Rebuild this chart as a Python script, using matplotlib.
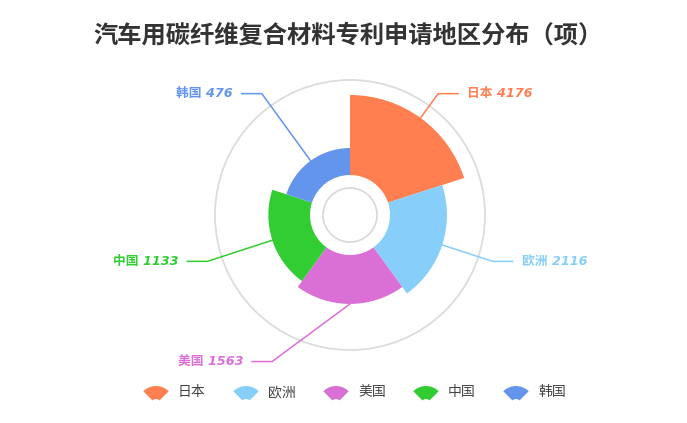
import numpy as np
import matplotlib
matplotlib.use("Agg")
import matplotlib.pyplot as plt
from matplotlib.patches import Wedge

plt.rcParams['font.family'] = ['Noto Sans CJK SC', 'DejaVu Sans']

title = "汽车用碳纤维复合材料专利申请地区分布（项）"
regions = ["日本", "欧洲", "美国", "中国", "韩国"]
counts = [4176, 2116, 1563, 1133, 476]
colors = ["#ff7f50", "#87cefa", "#da70d6", "#32cd32", "#6495ed"]

W, H = 687, 423
cx, cy = 350, 215          # pie centre in pixels
r_hole, r_max, r_ring = 40, 120, 135

fig = plt.figure(figsize=(W / 100, H / 100), dpi=100)
fig.patch.set_facecolor("white")

# polar axes for the rose, its spine is the grey outer ring
ax = fig.add_axes([(cx - r_ring) / W, (H - cy - r_ring) / H, 2 * r_ring / W, 2 * r_ring / H],
                  projection="polar")
ax.set_theta_zero_location("N")
ax.set_theta_direction(-1)
ax.set_ylim(0, r_ring)
ax.set_xticks([])
ax.set_yticks([])
ax.grid(False)
ax.spines["polar"].set_color("#dcdcdc")
ax.spines["polar"].set_linewidth(1.3)

n = len(counts)
step = 2 * np.pi / n
theta = np.arange(n) * step + step / 2
vals = np.array(counts, dtype=float)
radius = r_hole + (r_max - r_hole) * np.sqrt(vals / vals.max())
ax.bar(theta, radius - r_hole, width=step, bottom=r_hole, color=colors, edgecolor="none")

t = np.linspace(0, 2 * np.pi, 200)
ax.plot(t, np.full_like(t, 27), color="#d8d8d8", lw=1.2)

# overlay in pixel coords for labels + legend
ov = fig.add_axes([0, 0, 1, 1])
ov.set_xlim(0, W)
ov.set_ylim(H, 0)
ov.axis("off")

ov.text(cx - 2, 36, title, ha="center", va="center", fontsize=17.5, fontweight="bold", color="#333333")

# label line layout: elbow radius/angle (usa pushed aside like echarts does)
elbow_r = [150, 150, 166, 150, 150]
elbow_shift = [0, 0, 28, 0, 0]   # degrees
seg = 20
for i in range(n):
    a = theta[i]
    x0, y0 = cx + radius[i] * np.sin(a), cy - radius[i] * np.cos(a)
    ae = a + np.deg2rad(elbow_shift[i])
    x1, y1 = cx + elbow_r[i] * np.sin(ae), cy - elbow_r[i] * np.cos(ae)
    side = 1 if np.sin(ae) > 0 else -1
    x2 = x1 + side * seg
    ov.plot([x0, x1, x2], [y0, y1, y1], color=colors[i], lw=1.1)
    ov.text(x2 + side * 9, y1, f"{regions[i]} {counts[i]}", ha="left" if side > 0 else "right",
            va="center", fontsize=9.2, fontweight="bold", fontstyle="italic", color=colors[i],
            family=['DejaVu Sans', 'Noto Sans CJK SC'])

# legend with fan icons
lx = 156
for i in range(n):
    ov.add_patch(Wedge((lx, 404), 18, 225, 315, width=13, color=colors[i], ec="none"))
    ov.text(lx + 22, 392, regions[i], ha="left", va="center", fontsize=10, color="#444444")
    lx += 90

fig.savefig("out.png", dpi=100, facecolor="white")
